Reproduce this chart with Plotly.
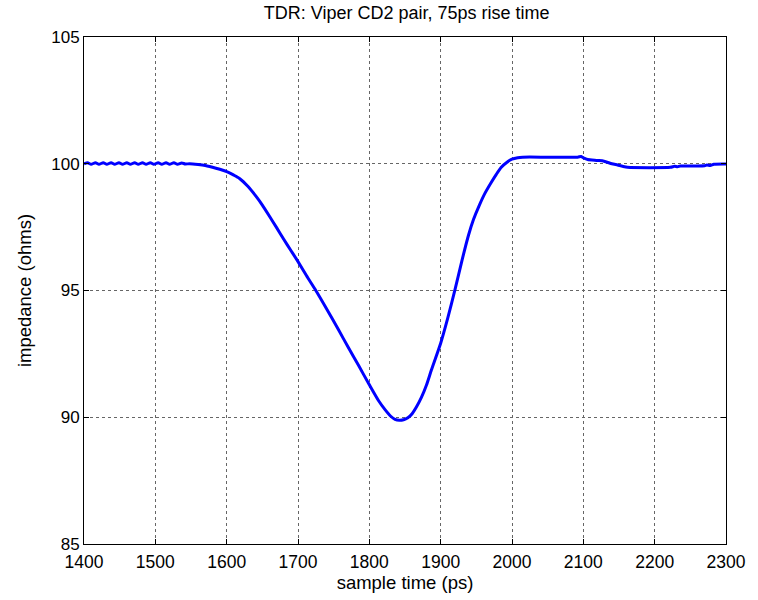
import plotly.graph_objects as go

# ---- data ----
ripple_t = [1400, 1405, 1410, 1416, 1421, 1427, 1432, 1438, 1443, 1449, 1454, 1460, 1465,
            1471, 1476, 1482, 1487, 1493, 1498, 1504, 1509, 1515, 1520, 1526, 1531, 1537, 1542]
ripple_z = [100.00, 100.04, 99.98, 100.04, 99.98, 100.04, 99.98, 100.04, 99.98, 100.04, 99.98, 100.04, 99.98,
            100.04, 99.98, 100.04, 99.98, 100.04, 99.98, 100.04, 99.98, 100.04, 99.98, 100.04, 99.98, 100.03, 99.99]

main_t = [1548, 1560, 1570, 1585, 1600, 1610, 1618, 1630, 1641, 1650, 1660, 1670, 1680, 1690,
          1700, 1712, 1725, 1740, 1757, 1770, 1785, 1800, 1813, 1822, 1830, 1836, 1842, 1848, 1854, 1860,
          1866, 1873, 1880, 1887, 1900, 1910, 1920, 1930, 1939, 1946, 1954, 1962, 1970, 1978, 1985, 1993, 2000, 2008, 2015,
          2050, 2092, 2097, 2101, 2106, 2120, 2129, 2140, 2148, 2155, 2162, 2222, 2228, 2232, 2236,
          2270, 2273, 2278, 2283, 2300]
main_z = [100.00, 99.97, 99.93, 99.82, 99.69, 99.55, 99.42, 99.10, 98.72, 98.37, 97.93, 97.48, 97.02, 96.58,
          96.14, 95.58, 95.00, 94.28, 93.44, 92.78, 92.04, 91.28, 90.65, 90.30, 90.04, 89.92, 89.88, 89.90, 89.98, 90.14,
          90.40, 90.78, 91.26, 91.86, 92.92, 93.92, 95.02, 96.20, 97.18, 97.80, 98.35, 98.83, 99.22, 99.58, 99.86, 100.06, 100.18, 100.24, 100.26,
          100.26, 100.26, 100.29, 100.22, 100.17, 100.13, 100.10, 100.00, 99.95, 99.90, 99.86, 99.86, 99.90, 99.88, 99.91,
          99.92, 99.95, 99.93, 99.98, 99.99]

sample_time = ripple_t + main_t
impedance = ripple_z + main_z

x_ticks = [1400, 1500, 1600, 1700, 1800, 1900, 2000, 2100, 2200, 2300]
y_ticks = [85, 90, 95, 100, 105]

FONT = "Liberation Sans, Arial, sans-serif"

fig = go.Figure()
fig.add_trace(go.Scatter(
    x=sample_time, y=impedance, mode="lines",
    line=dict(color="#0000FF", width=3, shape="spline", smoothing=0.6),
    hoverinfo="skip", showlegend=False,
))

axis_common = dict(
    showline=True, linecolor="black", linewidth=1, mirror="ticks",
    ticks="inside", ticklen=5, tickcolor="black",
    showgrid=True, gridcolor="#666666", gridwidth=1, griddash="dot",
    zeroline=False,
)

fig.update_layout(
    width=758, height=600,
    margin=dict(l=84, r=29, t=37, b=56),
    paper_bgcolor="white", plot_bgcolor="white",
    title=dict(text="TDR: Viper CD2 pair, 75ps rise time",
               font=dict(family=FONT, size=18, color="black"),
               x=0.5365, xanchor="center", xref="container",
               y=1 - 13 / 600, yanchor="middle", yref="container"),
    xaxis=dict(range=[1400, 2300], tickvals=x_ticks,
               tickfont=dict(family=FONT, size=17.5, color="black"),
               title=dict(text="sample time (ps)", font=dict(family=FONT, size=18.5, color="black"), standoff=1),
               ticklabelstandoff=2,
               **axis_common),
    yaxis=dict(range=[85, 105], tickvals=y_ticks,
               tickfont=dict(family=FONT, size=17, color="black"),
               title=dict(text="impedance (ohms)", font=dict(family=FONT, size=18.5, color="black"), standoff=14),
               **axis_common),
)

fig.write_html("out.html")
